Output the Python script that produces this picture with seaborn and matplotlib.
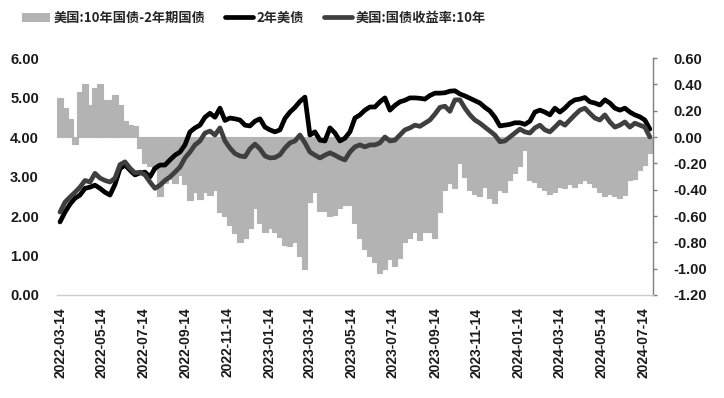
import numpy as np
import pandas as pd
import matplotlib
matplotlib.use("Agg")
import matplotlib.pyplot as plt
import seaborn as sns
from matplotlib.patches import Patch
from matplotlib.lines import Line2D
from matplotlib.font_manager import FontProperties

# ---------------- data ----------------
start_date = "2022-03-14"
end_date = "2024-07-24"
n_points = 119

us2y = [1.85, 2.10, 2.30, 2.45, 2.53, 2.70, 2.73, 2.78, 2.70, 2.60,
        2.53, 2.80, 3.20, 3.29, 3.16, 3.04, 3.09, 3.11, 2.99, 3.21,
        3.29, 3.29, 3.42, 3.54, 3.62, 3.80, 4.13, 4.23, 4.30, 4.50,
        4.60, 4.50, 4.73, 4.42, 4.48, 4.46, 4.43, 4.30, 4.28, 4.40,
        4.46, 4.25, 4.18, 4.13, 4.18, 4.47, 4.63, 4.75, 4.90, 5.01,
        4.05, 4.13, 3.92, 3.90, 4.23, 4.10, 3.90, 3.97, 4.13, 4.48,
        4.56, 4.68, 4.76, 4.76, 4.89, 4.99, 4.68, 4.80, 4.89, 4.93,
        4.99, 4.99, 4.98, 4.96, 5.05, 5.11, 5.11, 5.12, 5.16, 5.17,
        5.09, 5.04, 4.98, 4.92, 4.86, 4.75, 4.66, 4.50, 4.28, 4.30,
        4.32, 4.36, 4.36, 4.32, 4.40, 4.63, 4.68, 4.63, 4.56, 4.73,
        4.63, 4.73, 4.86, 4.94, 4.96, 5.00, 4.89, 4.86, 4.81, 4.94,
        4.86, 4.73, 4.68, 4.73, 4.63, 4.56, 4.51, 4.43, 4.20]

us10y = [2.10, 2.35, 2.48, 2.60, 2.73, 2.90, 2.86, 3.08, 2.96, 2.90,
         2.86, 2.96, 3.30, 3.37, 3.21, 3.09, 3.11, 3.04, 2.86, 2.70,
         2.78, 2.90, 2.99, 3.11, 3.24, 3.47, 3.62, 3.80, 3.90, 4.10,
         4.15, 4.05, 4.23, 3.90, 3.72, 3.58, 3.52, 3.50, 3.70, 3.82,
         3.70, 3.52, 3.47, 3.48, 3.55, 3.72, 3.85, 3.90, 4.05, 3.85,
         3.62, 3.54, 3.47, 3.54, 3.60, 3.54, 3.47, 3.42, 3.62, 3.75,
         3.80, 3.75, 3.80, 3.80, 3.85, 4.00, 3.90, 3.92, 4.05, 4.18,
         4.23, 4.30, 4.27, 4.35, 4.43, 4.58, 4.75, 4.78, 4.65, 4.94,
         4.94, 4.73, 4.56, 4.43, 4.35, 4.25, 4.15, 4.05, 3.88, 3.90,
         4.00, 4.10, 4.20, 4.13, 4.10, 4.23, 4.30, 4.18, 4.13, 4.25,
         4.38, 4.30, 4.43, 4.56, 4.68, 4.73, 4.60, 4.48, 4.43, 4.56,
         4.38, 4.25, 4.30, 4.38, 4.25, 4.35, 4.30, 4.25, 4.00]

spread = [0.30, 0.22, 0.14, -0.05, 0.34, 0.40, 0.24, 0.37, 0.40, 0.28,
          0.28, 0.32, 0.24, 0.12, 0.09, 0.08, -0.08, -0.20, -0.22, -0.25,
          -0.45, -0.35, -0.32, -0.35, -0.29, -0.36, -0.48, -0.42, -0.47, -0.42,
          -0.44, -0.40, -0.57, -0.60, -0.67, -0.73, -0.80, -0.77, -0.69, -0.54,
          -0.65, -0.72, -0.69, -0.72, -0.76, -0.82, -0.83, -0.80, -0.90, -1.00,
          -0.49, -0.42, -0.56, -0.56, -0.60, -0.59, -0.54, -0.52, -0.52, -0.65,
          -0.77, -0.85, -0.90, -0.95, -1.03, -1.00, -0.93, -0.98, -0.92, -0.80,
          -0.77, -0.72, -0.78, -0.72, -0.72, -0.77, -0.57, -0.40, -0.35, -0.39,
          -0.20, -0.30, -0.40, -0.43, -0.45, -0.38, -0.46, -0.50, -0.40, -0.42,
          -0.33, -0.27, -0.22, -0.10, -0.33, -0.34, -0.38, -0.40, -0.43, -0.42,
          -0.38, -0.39, -0.36, -0.38, -0.35, -0.33, -0.35, -0.38, -0.42, -0.45,
          -0.43, -0.45, -0.46, -0.44, -0.33, -0.32, -0.25, -0.21, -0.12]

x_tick_labels = ["2022-03-14", "2022-05-14", "2022-07-14", "2022-09-14",
                 "2022-11-14", "2023-01-14", "2023-03-14", "2023-05-14",
                 "2023-07-14", "2023-09-14", "2023-11-14", "2024-01-14",
                 "2024-03-14", "2024-05-14", "2024-07-14"]
left_ticks = [0.0, 1.0, 2.0, 3.0, 4.0, 5.0, 6.0]
right_ticks = [-1.2, -1.0, -0.8, -0.6, -0.4, -0.2, 0.0, 0.2, 0.4, 0.6]

label_spread = "美国:10年国债-2年期国债"
label_2y = "2年美债"
label_10y = "美国:国债收益率:10年"

# ---------------- figure ----------------
dates = pd.date_range(start=start_date, end=end_date, periods=n_points)
df = pd.DataFrame({"date": dates, "us2y": us2y, "us10y": us10y, "spread": spread})

sns.set_theme(style="white")
plt.rcParams["font.family"] = ["Liberation Sans", "Noto Sans CJK SC", "DejaVu Sans"]

BAR_C = "#b3b3b3"
fig = plt.figure(figsize=(7.24, 3.98), dpi=100)
ax = fig.add_axes([57 / 724, 1 - 295 / 398, (653 - 57) / 724, (295 - 58) / 398])
ax2 = ax.twinx()
ax.set_zorder(ax2.get_zorder() + 1)
ax.patch.set_visible(False)

step_days = (dates[1] - dates[0]).total_seconds() / 86400.0
ax2.bar(df["date"], df["spread"], width=step_days * 1.02, color=BAR_C,
        edgecolor=BAR_C, linewidth=0.8, align="center")

sns.lineplot(data=df, x="date", y="us2y", ax=ax, color="#000000", linewidth=3.4)
sns.lineplot(data=df, x="date", y="us10y", ax=ax, color="#3f3f3f", linewidth=3.4)

t0 = pd.Timestamp(start_date)
ax.set_xlim(t0 - pd.Timedelta(days=4.4), t0 + pd.Timedelta(days=867.6))
ax.set_ylim(0, 6)
ax2.set_ylim(-1.2, 0.6)

ax.set_xlabel("")
ax.set_ylabel("")
ax2.set_ylabel("")

ax.set_xticks(pd.to_datetime(x_tick_labels))
ax.set_xticklabels(x_tick_labels, rotation=90, fontsize=10, fontweight="bold",
                   color="#1a1a1a")
ax.set_yticks(left_ticks)
ax.set_yticklabels([f"{v:.2f}" for v in left_ticks], fontsize=10.5,
                   fontweight="bold", color="#1a1a1a")
ax2.set_yticks(right_ticks)
ax2.set_yticklabels([f"{v:.2f}" for v in right_ticks], fontsize=10.5,
                    fontweight="bold", color="#1a1a1a")

ax.tick_params(axis="x", length=0, pad=9)
ax.tick_params(axis="y", length=0, pad=13)
ax2.tick_params(axis="y", length=3, width=1, color="#7f7f7f", direction="out", pad=12)

for s in ["left", "right", "top"]:
    ax.spines[s].set_visible(False)
ax.spines["bottom"].set_color("#cccccc")
ax.spines["bottom"].set_linewidth(1)
for s in ["left", "top", "bottom"]:
    ax2.spines[s].set_visible(False)
ax2.spines["right"].set_color("#7f7f7f")
ax2.spines["right"].set_linewidth(1)
ax.grid(False)
ax2.grid(False)

handles = [Patch(facecolor=BAR_C, edgecolor="none"),
           Line2D([0], [0], color="#000000", linewidth=3.4),
           Line2D([0], [0], color="#3f3f3f", linewidth=3.4)]
fig.legend(handles, [label_spread, label_2y, label_10y], loc="center",
           bbox_to_anchor=(254 / 724, 1 - 18 / 398), ncol=3, frameon=False,
           prop=FontProperties(family=["Noto Sans CJK SC", "DejaVu Sans"],
                               weight="bold", size=9.5),
           handlelength=2.1, handletextpad=0.3, columnspacing=1.5)

fig.savefig("out.png", dpi=100)
